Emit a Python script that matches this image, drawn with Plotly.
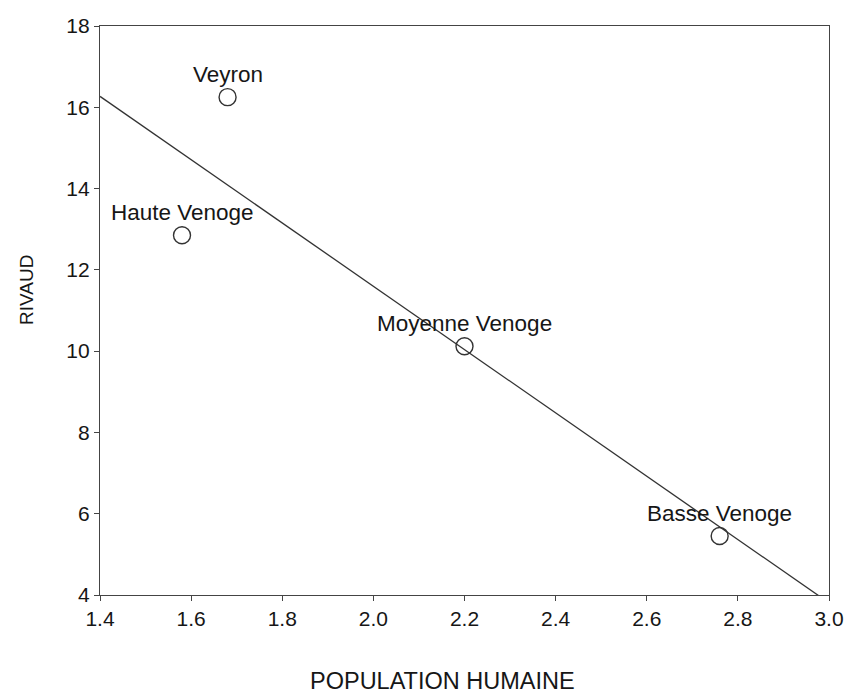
import numpy as np
import plotly.graph_objects as go

# Data
regions = ["Haute Venoge", "Veyron", "Moyenne Venoge", "Basse Venoge"]
population = [1.58, 1.68, 2.20, 2.76]
rivaud = [12.85, 16.25, 10.12, 5.45]

x_ticks = [1.4, 1.6, 1.8, 2.0, 2.2, 2.4, 2.6, 2.8, 3.0]
y_ticks = [4, 6, 8, 10, 12, 14, 16, 18]
x_range = [1.4, 3.0]
y_range = [4, 18]

# Linear regression fitted from the data
slope, intercept = np.polyfit(population, rivaud, 1)
fit_x = np.array(x_range)
fit_y = slope * fit_x + intercept

FONT = "Arial, Liberation Sans, sans-serif"
INK = "#161616"

fig = go.Figure()
fig.add_trace(go.Scatter(
    x=fit_x, y=fit_y, mode="lines",
    line=dict(color="#333333", width=1.3),
    showlegend=False, hoverinfo="skip",
))
fig.add_trace(go.Scatter(
    x=population, y=rivaud, mode="markers",
    marker=dict(symbol="circle-open", size=17, color="#333333", line=dict(width=1.4)),
    showlegend=False,
))

for name, xv, yv in zip(regions, population, rivaud):
    fig.add_annotation(
        x=xv, y=yv, text=name, showarrow=False,
        xanchor="center", yanchor="middle", yshift=23,
        font=dict(family=FONT, size=22.5, color=INK),
    )

# Axis titles
fig.add_annotation(
    xref="paper", yref="paper", x=0.4696, y=-0.151,
    text="POPULATION HUMAINE", showarrow=False,
    xanchor="center", yanchor="middle",
    font=dict(family=FONT, size=23.5, color=INK),
)
fig.add_annotation(
    xref="paper", yref="paper", x=-0.1015, y=0.536,
    text="RIVAUD", showarrow=False, textangle=-90,
    xanchor="center", yanchor="middle",
    font=dict(family=FONT, size=19, color=INK),
)

axis_common = dict(
    showgrid=False, zeroline=False,
    showline=True, linecolor="#444444", linewidth=1.3,
    mirror=True, ticks="outside", ticklen=5, tickwidth=1.2, tickcolor="#444444",
    tickfont=dict(family=FONT, size=21, color=INK),
)

fig.update_xaxes(
    range=x_range, tickvals=x_ticks,
    ticktext=[f"{v:.1f}" for v in x_ticks], **axis_common,
)
fig.update_yaxes(
    range=y_range, tickvals=y_ticks,
    ticktext=[str(v) for v in y_ticks], **axis_common,
)

fig.update_layout(
    width=856, height=695,
    margin=dict(l=100, r=17, t=26, b=100),
    paper_bgcolor="white", plot_bgcolor="white",
    font=dict(family=FONT, color=INK),
)

fig.write_html(
    "out.html",
    config={"displayModeBar": False},
    post_script="document.body.style.margin='0';document.body.style.overflow='hidden';",
)
